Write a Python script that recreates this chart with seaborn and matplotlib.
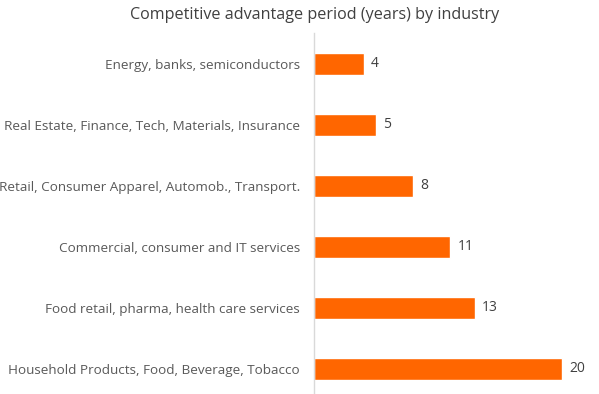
import matplotlib
matplotlib.use("Agg")
import matplotlib.pyplot as plt
import seaborn as sns
import pandas as pd

industries = [
    "Energy, banks, semiconductors",
    "Real Estate, Finance, Tech, Materials, Insurance",
    "Retail, Consumer Apparel, Automob., Transport.",
    "Commercial, consumer and IT services",
    "Food retail, pharma, health care services",
    "Household Products, Food, Beverage, Tobacco",
]
years = [4, 5, 8, 11, 13, 20]

df = pd.DataFrame({"industry": industries, "years": years})

sns.set_theme(style="white")
plt.rcParams["font.family"] = ["Open Sans", "DejaVu Sans"]

fig = plt.figure(figsize=(5.99, 3.94), dpi=100)
ax = fig.add_axes([0.524, 0.0, 0.456, 0.915])
sns.barplot(data=df, y="industry", x="years", color="#FF6600", width=0.35,
            orient="h", ax=ax, saturation=1)
ax.set_xlim(0, 22)
ax.set_ylim(5.41, -0.5)
ax.set_xlabel("")
ax.set_ylabel("")
ax.set_xticks([])
for s in ["top", "right", "bottom"]:
    ax.spines[s].set_visible(False)
ax.spines["left"].set_color("#D9D9D9")
ax.spines["left"].set_linewidth(1)
ax.tick_params(axis="y", length=0, pad=10, labelsize=9.7, labelcolor="#595959")
for c in ax.containers:
    ax.bar_label(c, padding=5, fontsize=10, color="#404040")
fig.suptitle("Competitive advantage period (years) by industry",
             x=0.525, y=0.983, fontsize=11.6, color="#404040")
fig.savefig("out.png", dpi=100)
